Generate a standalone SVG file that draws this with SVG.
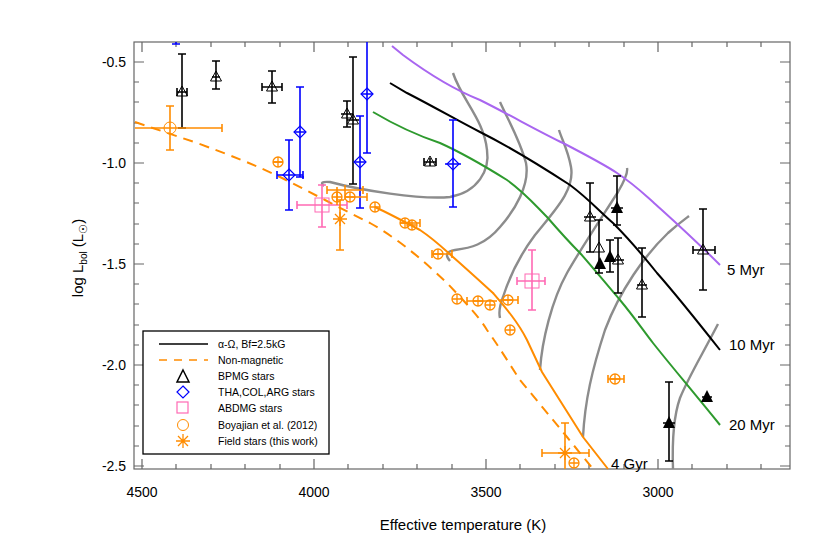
<svg xmlns="http://www.w3.org/2000/svg" width="830" height="554" viewBox="0 0 830 554">
<style>
text{font-family:"Liberation Sans",Arial,sans-serif;fill:#000}
.tk{font-size:14px}
.eb{fill:none;stroke-width:1.6}
.k{stroke:#000}.b{stroke:#00f}.p{stroke:#ff69b4}.o{stroke:#ff8c00}
.gr{fill:none;stroke:#8c8c8c;stroke-width:2.4}
.ax{fill:none;stroke:#666;stroke-width:1.2}
</style>
<defs>
<path id="tri" d="M0,-6 L5.5,4 L-5.5,4 Z" fill="none" stroke="#000" stroke-width="1"/>
<path id="ftri" d="M0,-7 L6,5 L-6,5 Z" fill="#000"/>
<path id="dia" d="M0,-6 L6,0 L0,6 L-6,0 Z" fill="none" stroke="#00f" stroke-width="1.2"/>
<rect id="sq" x="-7" y="-7" width="14" height="14" fill="none" stroke="#ff69b4" stroke-width="1"/>
<circle id="cir" r="6" fill="none" stroke="#ff8c00" stroke-width="1"/>
<g id="cc"><circle r="5" fill="none" stroke="#ff8c00" stroke-width="1.3"/><path d="M-5,0H5M0,-5V5" stroke="#ff8c00" stroke-width="1.3"/></g>
<path id="ast" d="M-7,0H7M0,-7V7M-5,-5L5,5M-5,5L5,-5" stroke="#ff8c00" stroke-width="1.3"/>
</defs>
<rect width="830" height="554" fill="#fff"/>
<g id="axes">
<rect x="134" y="42" width="656" height="427" class="ax"/>
<path class="ax" d="M142,469v-10M314,469v-10M486,469v-10M658,469v-10M142,42v10M314,42v10M486,42v10M658,42v10
M176,469v-5M211,469v-5M245,469v-5M280,469v-5M348,469v-5M383,469v-5M417,469v-5M452,469v-5M520,469v-5M555,469v-5M589,469v-5M624,469v-5M692,469v-5M727,469v-5M761,469v-5
M176,42v5M211,42v5M245,42v5M280,42v5M348,42v5M383,42v5M417,42v5M452,42v5M520,42v5M555,42v5M589,42v5M624,42v5M692,42v5M727,42v5M761,42v5
M134,62h10M134,163h10M134,264h10M134,365h10M134,466h10M790,62h-10M790,163h-10M790,264h-10M790,365h-10M790,466h-10
M134,82h5M134,102h5M134,123h5M134,143h5M134,183h5M134,203h5M134,224h5M134,244h5M134,284h5M134,304h5M134,325h5M134,345h5M134,385h5M134,405h5M134,426h5M134,446h5
M790,82h-5M790,102h-5M790,123h-5M790,143h-5M790,183h-5M790,203h-5M790,224h-5M790,244h-5M790,284h-5M790,304h-5M790,325h-5M790,345h-5M790,385h-5M790,405h-5M790,426h-5M790,446h-5"/>
<g class="tk" text-anchor="middle">
<text x="142" y="497">4500</text><text x="314" y="497">4000</text><text x="486" y="497">3500</text><text x="658" y="497">3000</text>
</g>
<g class="tk" text-anchor="end">
<text x="126" y="67">-0.5</text><text x="126" y="168">-1.0</text><text x="126" y="269">-1.5</text><text x="126" y="370">-2.0</text><text x="126" y="471">-2.5</text>
</g>
<text x="463" y="530" font-size="15" text-anchor="middle">Effective temperature (K)</text>
<text transform="translate(83,258) rotate(-90)" font-size="15" text-anchor="middle">log L<tspan font-size="10" dy="4">bol</tspan><tspan dy="-4"> (L</tspan><tspan font-size="11" dy="4">☉</tspan><tspan dy="-4">)</tspan></text>
</g>
<g id="connectors">
<path class="gr" d="M324,186 Q318,181 330,182 C360,190 420,200 450,197 C478,192 490,170 487,150 C484,120 462,100 453,73"/>
<path class="gr" d="M450,261 Q442,252 455,250 C470,248 485,245 500,227 C515,210 530,185 526,163 C520,140 508,120 500,102"/>
<path class="gr" d="M500,318 Q498,310 503,297 C510,275 520,255 535,235 C555,210 575,190 571,167 C568,150 562,140 559,130"/>
<path class="gr" d="M540,370 C542,340 552,300 567,273 C580,250 600,220 618,192 C625,180 628,172 627,168"/>
<path class="gr" d="M583,437 C585,400 592,370 605,330 C620,290 645,255 668,233 C678,224 685,219 689,216"/>
<path class="gr" d="M673,469 C672,440 674,415 680,398 C688,378 702,355 718,324"/>
<path fill="none" stroke="#a966f0" stroke-width="2" d="M392,46 L403,55 C430,75 455,90 480,100 C510,115 540,132 563,143 C590,157 605,165 617,173 C635,185 645,195 653,202 C665,213 690,235 720,265"/>
<path fill="none" stroke="#000" stroke-width="2" d="M390,83 L407,93 C440,110 460,122 480,132 C510,147 550,172 570,185 C590,200 600,212 613,223 C630,240 645,258 657,273 C672,290 690,312 720,350"/>
<path fill="none" stroke="#2e9a2e" stroke-width="2" d="M373,112 C400,128 425,138 440,143 C460,152 475,160 507,180 C525,193 535,205 547,217 C560,232 570,243 580,253 C595,270 607,285 620,300 C635,318 645,333 653,343 C668,362 690,388 720,425"/>
<path fill="none" stroke="#ff8c00" stroke-width="2" d="M375,207 C390,214 405,222 420,230 C435,240 445,250 453,257 C470,272 482,283 493,293 C505,307 518,322 527,340 L542,372 L583,437 L608,469"/>
<path fill="none" stroke="#ff8c00" stroke-width="2" stroke-dasharray="10,7" d="M135,122 L197,143 C230,155 255,165 280,177 C310,192 340,208 370,223 C400,240 425,262 447,283 C465,302 480,318 487,330 C500,348 510,365 520,380 L567,437 L593,469"/>
</g>
<g id="labels" font-size="15">
<text x="727" y="275">5 Myr</text><text x="729" y="350">10 Myr</text><text x="729" y="430">20 Myr</text><text x="611" y="469">4 Gyr</text>
</g>
<g id="bpmg">
<path class="eb k" d="M182,54V128M178,54h8M178,128h8M177,92h10M177,88v8M187,88v8"/>
<use href="#tri" x="182" y="92"/>
<path class="eb k" d="M216,61V89M212,61h8M212,89h8M212,77h8"/><use href="#tri" x="216" y="77"/>
<path class="eb k" d="M272,71V103M268,71h8M268,103h8M262,87h20M262,83v8M282,83v8"/><use href="#tri" x="272" y="87"/>
<path class="eb k" d="M347,101V127M343,101h8M343,127h8M341,114h12M353,57V184M349,57h8M349,184h8M347,120h12"/>
<use href="#tri" x="347" y="114"/><use href="#tri" x="353" y="120"/>
<path class="eb k" d="M424,162h12M424,158v8M436,158v8M430,158v8"/><use href="#tri" x="430" y="162"/>
<path class="eb k" d="M590,183V252M586,183h8M586,252h8M584,217h12M599,220V273M595,220h8M595,273h8M618,238V293M614,238h8M614,293h8M612,260h12M642,248V317M638,248h8M638,317h8M637,285h10M703,209V290M699,209h8M699,290h8M693,250h22M693,246v8M715,246v8"/>
<use href="#tri" x="590" y="217"/><use href="#tri" x="599" y="248"/><use href="#tri" x="618" y="260"/><use href="#tri" x="642" y="285"/><use href="#tri" x="703" y="250"/>
<path class="eb k" d="M617,176V225M613,176h8M613,225h8M611,208h12M610,240V272M606,240h8M606,272h8M669,382V461M665,382h8M665,461h8M663,423h12M702,397h10"/>
<use href="#ftri" x="617" y="208"/><use href="#ftri" x="600" y="264"/><use href="#ftri" x="610" y="257"/><use href="#ftri" x="669" y="423"/><use href="#ftri" x="707" y="397"/>
</g>
<g id="tha">
<path class="eb b" d="M176,42V44M172,44h8"/>
<path class="eb b" d="M300,87V177M296,87h8M296,177h8M294,132h12M289,140V210M285,140h8M285,210h8M277,175h26M277,171v8M303,171v8M360,116V208M356,116h8M356,208h8M354,162h12M367,42V153M363,153h8M361,94h12M453,120V207M449,120h8M449,207h8M445,164h16"/>
<use href="#dia" x="300" y="132"/><use href="#dia" x="289" y="175"/><use href="#dia" x="360" y="162"/><use href="#dia" x="367" y="94"/><use href="#dia" x="453" y="164"/>
</g>
<g id="abdmg">
<path class="eb p" d="M322,185V227M318,185h8M318,227h8M297,205h50M297,201v8M347,201v8M532,250V310M528,250h8M528,310h8M517,281h28M517,277v8M545,277v8"/>
<use href="#sq" x="322" y="205"/><use href="#sq" x="532" y="281"/>
</g>
<g id="boyajian">
<path class="eb o" d="M170,106V150M166,106h8M166,150h8M135,128h87M222,124v8"/>
<use href="#cir" x="170" y="128"/>
<path class="eb o" d="M273,162h10"/><use href="#cc" x="278" y="162"/>
<path class="eb o" d="M327,190h36M327,186v8M363,186v8M337,187V205M345,185V200M345,197h22M367,193v8M400,223h20M420,219v8M432,254h20M432,250v8M452,250v8M467,301h30M467,297v8M500,300h18M518,296v8M608,379h16M608,375v8M624,375v8"/>
<use href="#cc" x="337" y="197"/><use href="#cc" x="350" y="197"/><use href="#cc" x="375" y="207"/><use href="#cc" x="405" y="223"/><use href="#cc" x="412" y="225"/><use href="#cc" x="438" y="254"/><use href="#cc" x="457" y="299"/><use href="#cc" x="478" y="301"/><use href="#cc" x="490" y="305"/><use href="#cc" x="508" y="300"/><use href="#cc" x="510" y="330"/><use href="#cc" x="615" y="379"/><use href="#cc" x="574" y="463"/>
</g>
<g id="field">
<path class="eb o" d="M340,200V250M336,200h8M336,250h8M542,453h47M542,449v8M589,449v8M565,423V469M561,423h8"/>
<use href="#ast" x="340" y="219"/><use href="#ast" x="565" y="453"/>
</g>
<g id="legend" font-size="10.5">
<rect x="143" y="331" width="186" height="123" fill="#fff" stroke="#000" stroke-width="1.3"/>
<path d="M159,344h49" stroke="#000" stroke-width="1.5"/>
<path d="M159,360h49" stroke="#ff8c00" stroke-width="1.5" stroke-dasharray="8,7"/>
<path d="M183,370 L189,382 L177,382 Z" fill="none" stroke="#000" stroke-width="1.5"/>
<use href="#dia" x="183" y="392"/>
<rect x="177" y="402" width="11" height="11" fill="none" stroke="#ff69b4" stroke-width="1.2"/>
<circle cx="183" cy="425" r="5.5" fill="none" stroke="#ff8c00"/>
<use href="#ast" x="183" y="441"/>
<text x="218" y="348">α-Ω, Bf=2.5kG</text>
<text x="218" y="364">Non-magnetic</text>
<text x="218" y="380">BPMG stars</text>
<text x="218" y="396">THA,COL,ARG stars</text>
<text x="218" y="412">ABDMG stars</text>
<text x="218" y="429">Boyajian et al. (2012)</text>
<text x="218" y="445">Field stars (this work)</text>
</g>
</svg>
